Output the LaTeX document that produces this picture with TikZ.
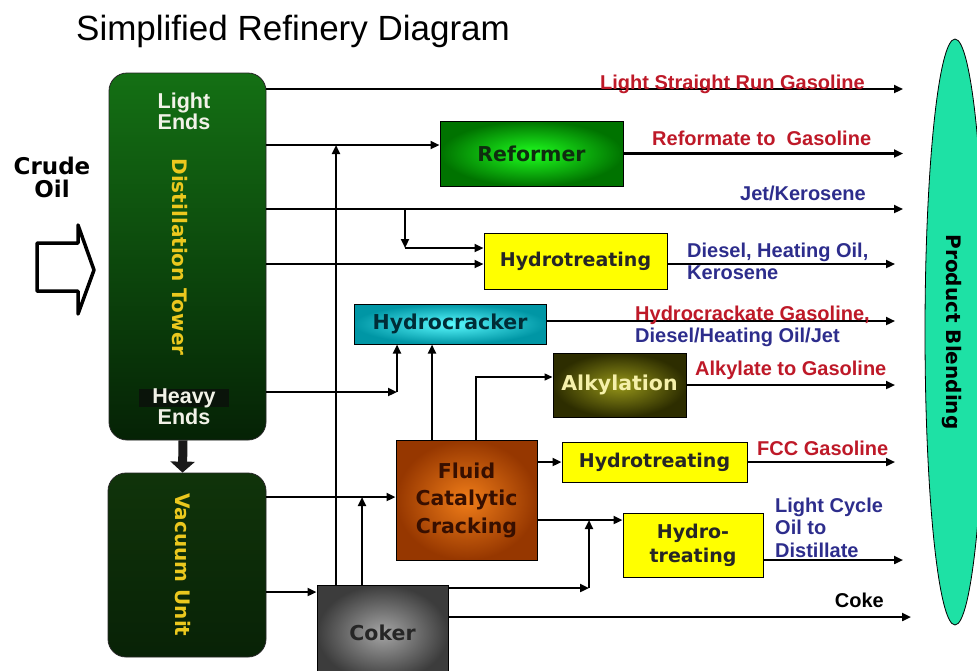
\documentclass[tikz,border=0pt]{standalone}
\usepackage{fontspec}
\setmainfont{Liberation Sans}
\newfontfamily\boxfont{DejaVu Sans}
\usetikzlibrary{arrows.meta,shapes.geometric,calc}

\definecolor{towertop}{RGB}{20,112,20}
\definecolor{towerbot}{RGB}{5,34,5}
\definecolor{vactop}{RGB}{16,52,10}
\definecolor{vacbot}{RGB}{8,34,6}
\definecolor{refin}{RGB}{30,255,30}
\definecolor{refout}{RGB}{0,115,0}
\definecolor{hcin}{RGB}{90,250,255}
\definecolor{hcout}{RGB}{0,150,165}
\definecolor{alkin}{RGB}{150,150,25}
\definecolor{alkout}{RGB}{45,45,0}
\definecolor{fccin}{RGB}{240,125,25}
\definecolor{fccout}{RGB}{150,55,0}
\definecolor{cokin}{RGB}{165,165,165}
\definecolor{cokout}{RGB}{60,60,60}
\definecolor{htyellow}{RGB}{255,255,0}
\definecolor{blendfill}{RGB}{30,225,165}
\definecolor{prodred}{RGB}{190,25,40}
\definecolor{prodnavy}{RGB}{45,45,140}
\definecolor{towertext}{RGB}{235,200,30}
\definecolor{endstext}{RGB}{242,242,232}
\definecolor{reftext}{RGB}{15,45,15}
\definecolor{hctext}{RGB}{0,45,55}
\definecolor{alktext}{RGB}{245,240,170}
\definecolor{fcctext}{RGB}{55,15,0}
\definecolor{cokpatch}{RGB}{10,20,10}

\begin{document}
\begin{tikzpicture}[x=1pt,y=-1pt,
  flow/.style={line width=2.2pt,-{Triangle[length=9pt,width=8pt]}},
  thinflow/.style={line width=1.5pt,-{Triangle[length=8pt,width=7pt]}},
  unitbox/.style={rectangle,draw=black,line width=1pt,inner sep=0pt,align=center,
    font=\boxfont\bfseries\fontsize{20.5}{27.5}\selectfont},
  htbox/.style={unitbox,fill=htyellow,text=black!85,
    font=\boxfont\bfseries\fontsize{19}{24}\selectfont},
  columnbox/.style={rectangle,rounded corners=18pt,draw=black!85,line width=0.8pt,inner sep=0pt},
  prodlbl/.style={anchor=base west,inner sep=0pt,font=\bfseries\fontsize{20}{22}\selectfont},
  endslbl/.style={align=center,inner sep=0pt,text=endstext,
    font=\bfseries\fontsize{21.5}{20}\selectfont},
  vertlbl/.style={rotate=-90,inner sep=0pt,font=\boxfont\bfseries\fontsize{20}{24}\selectfont}
]
\useasboundingbox (0,0) rectangle (977,670);
\clip (0,0) rectangle (977,670);

% heading
\node[anchor=base west,inner sep=0pt,font=\fontsize{35}{38}\selectfont] (title) at (76,40)
  {Simplified Refinery Diagram};

% product blending
\node[ellipse,draw=black,line width=0.8pt,fill=blendfill,minimum width=60pt,
  minimum height=586pt,inner sep=0pt] (blend) at (955,332) {};
\node[vertlbl,text=black] (blendtxt) at (952,332) {Product Blending};

% crude oil feed
\node[align=center,inner sep=0pt,font=\boxfont\bfseries\fontsize{23}{23}\selectfont] (crude)
  at (52,177) {Crude\\Oil};
\draw[line width=3.5pt,line join=round,fill=white]
  (37,243) -- (78,243) -- (78,225) -- (94,270) -- (78,314) -- (78,291) -- (37,291) -- cycle;

% distillation tower and vacuum unit
\node[columnbox,top color=towertop,bottom color=towerbot,minimum width=157pt,
  minimum height=367pt] (dist) at (187.5,256.5) {};
\fill[cokpatch] (139,389) rectangle (229,407);
\node[endslbl] (light) at (184,111) {Light\\Ends};
\node[endslbl] (heavy) at (184,407) {Heavy\\Ends};
\node[vertlbl,text=towertext] (disttxt) at (180,257) {Distillation Tower};

\node[columnbox,top color=vactop,bottom color=vacbot,minimum width=158pt,
  minimum height=184pt] (vac) at (187,565) {};
\node[vertlbl,text=towertext] (vactxt) at (183,565) {Vacuum Unit};

\draw[line width=9pt,-{Triangle[length=11pt,width=24pt]},black!90]
  ($(dist.south)+(-4.5,0)$) -- ($(vac.north)+(-4.5,0)$);

% process units
\node[unitbox,inner color=refin,outer color=refout,text=reftext,minimum width=183pt,
  minimum height=65pt] (reformer) at (531.5,153.5) {Reformer};
\node[htbox,minimum width=183pt,minimum height=56pt] (ht1) at (575.5,261) {Hydrotreating};
\node[unitbox,inner color=hcin,outer color=hcout,text=hctext,minimum width=192pt,
  minimum height=40pt] (hcrack) at (450,324) {Hydrocracker};
\node[unitbox,inner color=alkin,outer color=alkout,text=alktext,minimum width=133pt,
  minimum height=64pt] (alky) at (619.5,385) {Alkylation};
\node[unitbox,inner color=fccin,outer color=fccout,text=fcctext,minimum width=141pt,
  minimum height=120pt] (fcc) at (466.5,500) {Fluid\\Catalytic\\Cracking};
\node[htbox,minimum width=185pt,minimum height=40pt] (ht2) at (654.5,462) {Hydrotreating};
\node[htbox,minimum width=140pt,minimum height=64pt] (ht3) at (693,545) {Hydro-\\treating};
\node[unitbox,inner color=cokin,outer color=cokout,text=black!85,minimum width=131pt,
  minimum height=96pt] (coker) at (382.5,633) {Coker};

% junction points and product ends
\coordinate (eLSR) at (903,89);
\coordinate (eJet) at (903,209);
\coordinate (eDsl) at (895,264);
\coordinate (eHC) at (895,321);
\coordinate (eLCO) at (903,560);
\coordinate (eCoke) at (911,617);
\coordinate (refIn) at ($(reformer.west)+(0,-8.5)$);
\coordinate (jetTap) at (405,209);
\coordinate (ht1InA) at ($(ht1.west)+(0,-13)$);
\coordinate (ht1InB) at ($(ht1.west)+(0,3)$);
\coordinate (heavyTap) at (397,392);
\coordinate (fccUp) at (432,440);
\coordinate (alkRise) at (476,440);
\coordinate (alkIn) at ($(alky.west)+(0,-8)$);
\coordinate (fccIn) at ($(fcc.west)+(0,-3)$);
\coordinate (ht3In) at ($(ht3.west)+(0,-25)$);
\coordinate (cokIn) at ($(coker.west)+(0,-41)$);
\coordinate (cokRiseA) at (336,585);
\coordinate (cokRiseB) at (362,585);
\coordinate (lcoTap) at (589,588);

% straight-run streams from the tower
\draw[flow] (dist.east |- eLSR) -- (eLSR);
\draw[flow] (dist.east |- refIn) -- (refIn);
\draw[flow] (reformer.east) -- (reformer.east -| eLSR);
\draw[flow] (dist.east |- eJet) -- (eJet);
\draw[flow] (jetTap) -- (jetTap |- ht1InA);
\draw[flow] (jetTap |- ht1InA) -- (ht1InA);
\draw[flow] (dist.east |- ht1InB) -- (ht1InB);
\draw[flow] (ht1.east |- eDsl) -- (eDsl);

% heavy ends to the hydrocracker
\draw[flow] (dist.east |- heavyTap) -- (heavyTap);
\draw[flow] (heavyTap) -- (heavyTap |- hcrack.south);
\draw[flow] (fcc.north -| fccUp) -- (hcrack.south -| fccUp);
\draw[flow] (hcrack.east |- eHC) -- (eHC);

% alkylation
\draw[thinflow] (fcc.north -| alkRise) |- (alkIn);
\draw[flow] (alky.east) -- (alky.east -| eHC);

% vacuum unit, FCC and coker
\draw[flow] (vac.east |- fccIn) -- (fccIn);
\draw[flow] (fcc.east |- ht2.west) -- (ht2.west);
\draw[flow] (ht2.east) -- (ht2.east -| eHC);
\draw[flow] (fcc.east |- ht3In) -- (ht3In);
\draw[flow] (ht3.east |- eLCO) -- (eLCO);
\draw[flow] (vac.east |- cokIn) -- (cokIn);
\draw[flow] (coker.north -| cokRiseA) -- (refIn -| cokRiseA);
\draw[flow] (coker.north -| cokRiseB) -- (fccIn -| cokRiseB);
\draw[flow] (coker.east |- lcoTap) -- (lcoTap);
\draw[flow] (lcoTap) -- (lcoTap |- ht3In);
\draw[flow] (coker.east |- eCoke) -- (eCoke);

% product labels
\node[prodlbl,text=prodred] (lLSR) at (600,89) {Light Straight Run Gasoline};
\node[prodlbl,text=prodred] (lRef) at (652,145) {Reformate to~ Gasoline};
\node[prodlbl,text=prodnavy] (lJet) at (740,200) {Jet/Kerosene};
\node[prodlbl,text=prodnavy] (lDslA) at (687,257) {Diesel, Heating Oil,};
\node[prodlbl,text=prodnavy] (lDslB) at (687,279) {Kerosene};
\node[prodlbl,text=prodred] (lHCa) at (635,320) {Hydrocrackate Gasoline,};
\node[prodlbl,text=prodnavy] (lHCb) at (635,342) {Diesel/Heating Oil/Jet};
\node[prodlbl,text=prodred] (lAlk) at (695,375) {Alkylate to Gasoline};
\node[prodlbl,text=prodred] (lFCC) at (757,455) {FCC Gasoline};
\node[prodlbl,text=prodnavy] (lLCOa) at (775,512) {Light Cycle};
\node[prodlbl,text=prodnavy] (lLCOb) at (775,534) {Oil to};
\node[prodlbl,text=prodnavy] (lLCOc) at (775,557) {Distillate};
\node[prodlbl,anchor=base east,text=black] (lCoke) at (884,607) {Coke};
\end{tikzpicture}
\end{document}
